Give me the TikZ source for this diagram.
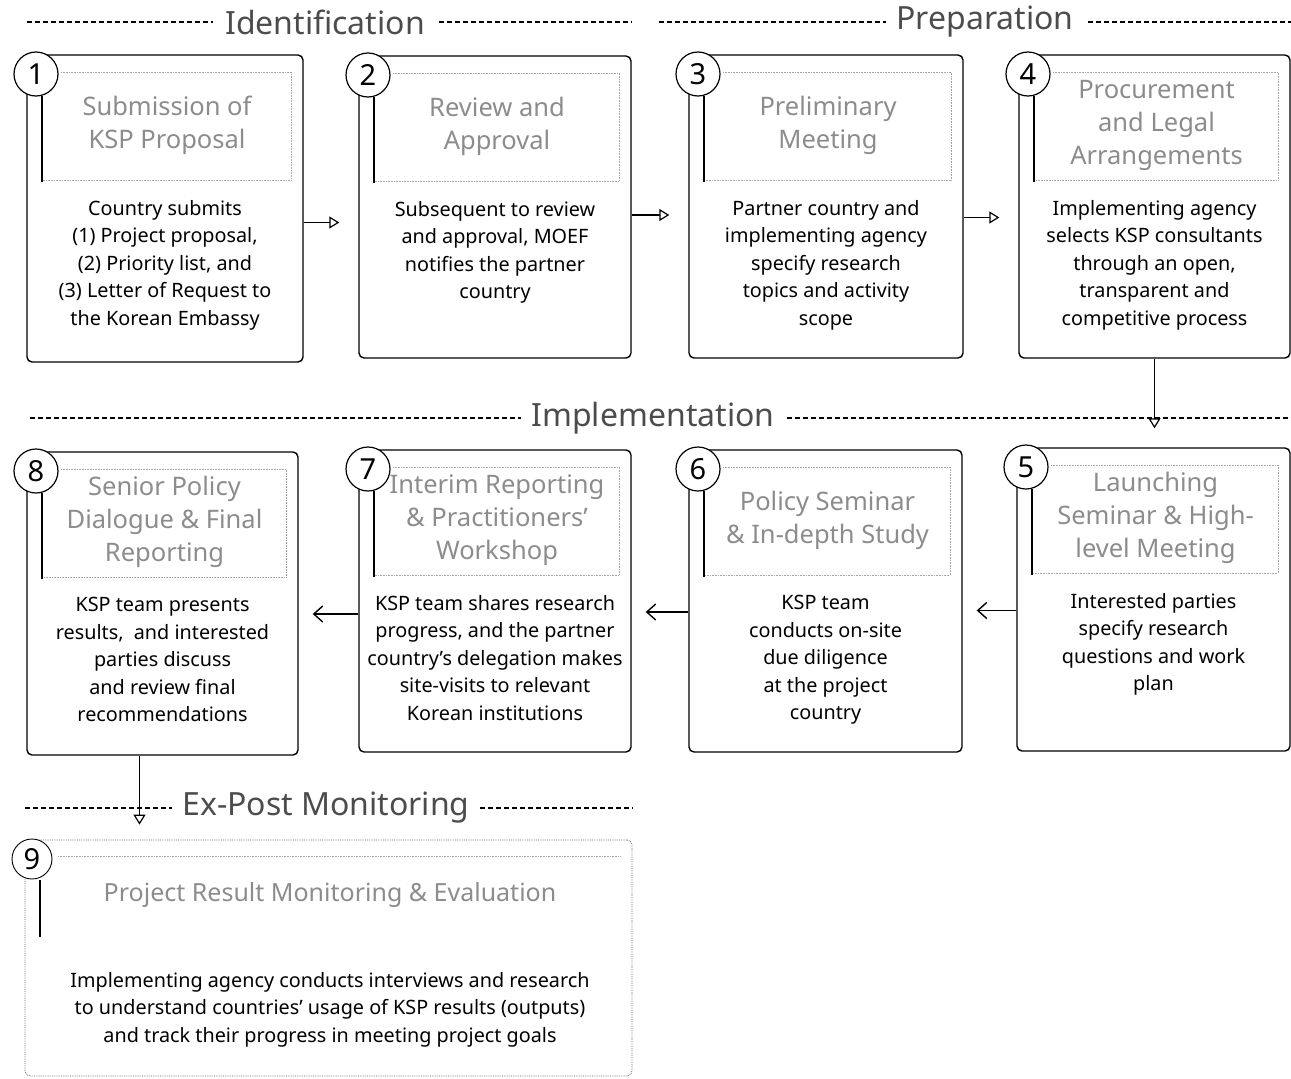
\documentclass[tikz,border=0pt]{standalone}
\usepackage{fontspec}
\setmainfont{Noto Sans}
\usetikzlibrary{arrows.meta,fit,calc}
\newcommand\mkstep[8]{%
  \node[stepbox, fit={(#2,#3) (#4,#5)}] (#1) {};
  \draw[hdrfaint] (#2+34,#3+17) -- (#4-12,#3+17) -- (#4-12,#3+125) -- (#2+15,#3+125);
  \draw[hdrbar] (#2+15,#3+41) -- (#2+15,#3+127);
  \node[numcirc] (#1n) at (#2+9,#3+19) {#6};
  \node[titletxt] (#1t) at ({(#2+#4)/2+2},#3+70) {#7};
  \node[bodytxt] (#1b) at ({(#2+#4)/2},#3+145) {#8};
}
\begin{document}
\begin{tikzpicture}[x=1pt,y=-1pt,
  stepbox/.style={draw=black, line width=1.4pt, rounded corners=5pt, inner sep=0pt},
  hdrfaint/.style={draw=black!35, line width=0.6pt, densely dotted},
  hdrbar/.style={draw=black, line width=1.3pt},
  numcirc/.style={circle, draw=black, line width=1.2pt, fill=white, minimum size=44pt, inner sep=0pt, font=\fontsize{29}{29}\selectfont},
  titletxt/.style={align=center, inner sep=0pt, text=black!45, font=\fontsize{25.5}{33}\selectfont},
  bodytxt/.style={align=center, anchor=north, inner sep=0pt, font=\fontsize{19.8}{27.5}\selectfont},
  sechead/.style={inner sep=0pt, text=black!70, font=\fontsize{32}{32}\selectfont},
  secdash/.style={draw=black, line width=1.2pt, dash pattern=on 5pt off 3pt},
  arrT/.style={line width=1.2pt, -{Triangle[open,length=10pt,width=12pt]}, shorten >=19pt},
  arrL/.style={line width=1.4pt, -{Straight Barb[length=9pt,width=16pt]}, shorten >=14pt}
]
\useasboundingbox (0,0) rectangle (1291,1079);

% section headings
\node[sechead] (hid) at (325,22) {Identification};
\coordinate (hidL) at (27,22); \coordinate (hidR) at (632,22);
\draw[secdash] (hidL) -- ([xshift=-12pt]hid.west);
\draw[secdash] ([xshift=14pt]hid.east) -- (hidR);

\node[sechead] (hpr) at (985,22) {Preparation};
\coordinate (hprL) at (659,22); \coordinate (hprR) at (1291,22);
\draw[secdash] (hprL) -- ([xshift=-10pt]hpr.west);
\draw[secdash] ([xshift=14pt]hpr.east) -- (hprR);

\node[sechead] (him) at (653,418) {Implementation};
\coordinate (himL) at (30,418); \coordinate (himR) at (1291,418);
\draw[secdash] (himL) -- ([xshift=-10pt]him.west);
\draw[secdash] ([xshift=12pt]him.east) -- (himR);

\node[sechead] (hex) at (326,808) {Ex-Post Monitoring};
\coordinate (hexL) at (25,808); \coordinate (hexR) at (632,808);
\draw[secdash] (hexL) -- ([xshift=-10pt]hex.west);
\draw[secdash] ([xshift=10pt]hex.east) -- (hexR);

% steps
\mkstep{b1}{27}{55}{303}{362}{1}{Submission of\\KSP Proposal}{Country submits\\(1) Project proposal,\\(2) Priority list, and\\(3) Letter of Request to\\the Korean Embassy}
\mkstep{b2}{359}{56}{631}{358}{2}{Review and\\Approval}{Subsequent to review\\and approval, MOEF\\notifies the partner\\country}
\mkstep{b3}{689}{55}{963}{358}{3}{Preliminary\\Meeting}{Partner country and\\implementing agency\\specify research\\topics and activity\\scope}
\mkstep{b4}{1019}{55}{1290}{358}{4}{Procurement\\and Legal\\Arrangements}{Implementing agency\\selects KSP consultants\\through an open,\\transparent and\\competitive process}
\mkstep{b5}{1017}{448}{1290}{751}{5}{Launching\\Seminar \& High-\\level Meeting}{Interested parties\\specify research\\questions and work\\plan}
\mkstep{b6}{689}{450}{962}{752}{6}{Policy Seminar\\\& In-depth Study}{KSP team\\conducts on-site\\due diligence\\at the project\\country}
\mkstep{b7}{359}{450}{631}{752}{7}{Interim Reporting\\\& Practitioners’\\Workshop}{KSP team shares research\\progress, and the partner\\country’s delegation makes\\site-visits to relevant\\Korean institutions}
\mkstep{b8}{27}{452}{298}{755}{8}{Senior Policy\\Dialogue \& Final\\Reporting}{KSP team presents\\results,\ \ and interested\\parties discuss\\and review final\\recommendations}

% step 9
\node[stepbox, draw=black!60, line width=0.8pt, densely dotted, fit={(25,840) (632,1076)}] (b9) {};
\draw[hdrfaint] (58,856) -- (620,856);
\draw[hdrbar] (40,880) -- (40,937);
\node[numcirc, line width=0.9pt, minimum size=40pt] (b9n) at (32,859) {9};
\node[titletxt, font=\fontsize{25}{30}\selectfont] (b9t) at (330,895) {Project Result Monitoring \& Evaluation};
\node[bodytxt] (b9b) at (330,972) {Implementing agency conducts interviews and research\\to understand countries’ usage of KSP results (outputs)\\and track their progress in meeting project goals};

% connectors
\draw[arrT] ([yshift=-14pt]b1.east) -- ([yshift=-14pt]b1.east -| b2.west);
\draw[arrT] ([yshift=-8pt]b2.east) -- ([yshift=-8pt]b2.east -| b3.west);
\draw[arrT] ([yshift=-11pt]b3.east) -- ([yshift=-11pt]b3.east -| b4.west);
\draw[arrT] (b4.south) -- (b4.south |- b5.north);
\draw[arrL] ([yshift=-11pt]b5.west) -- ([yshift=-11pt]b5.west -| b6.east);
\draw[arrL] ([yshift=-11pt]b6.west) -- ([yshift=-11pt]b6.west -| b7.east);
\draw[arrL] ([yshift=-13pt]b7.west) -- ([yshift=-13pt]b7.west -| b8.east);
\draw[arrT, shorten >=15pt] ([xshift=-23pt]b8.south) -- ([xshift=-23pt]b8.south |- b9.north);
\end{tikzpicture}
\end{document}
